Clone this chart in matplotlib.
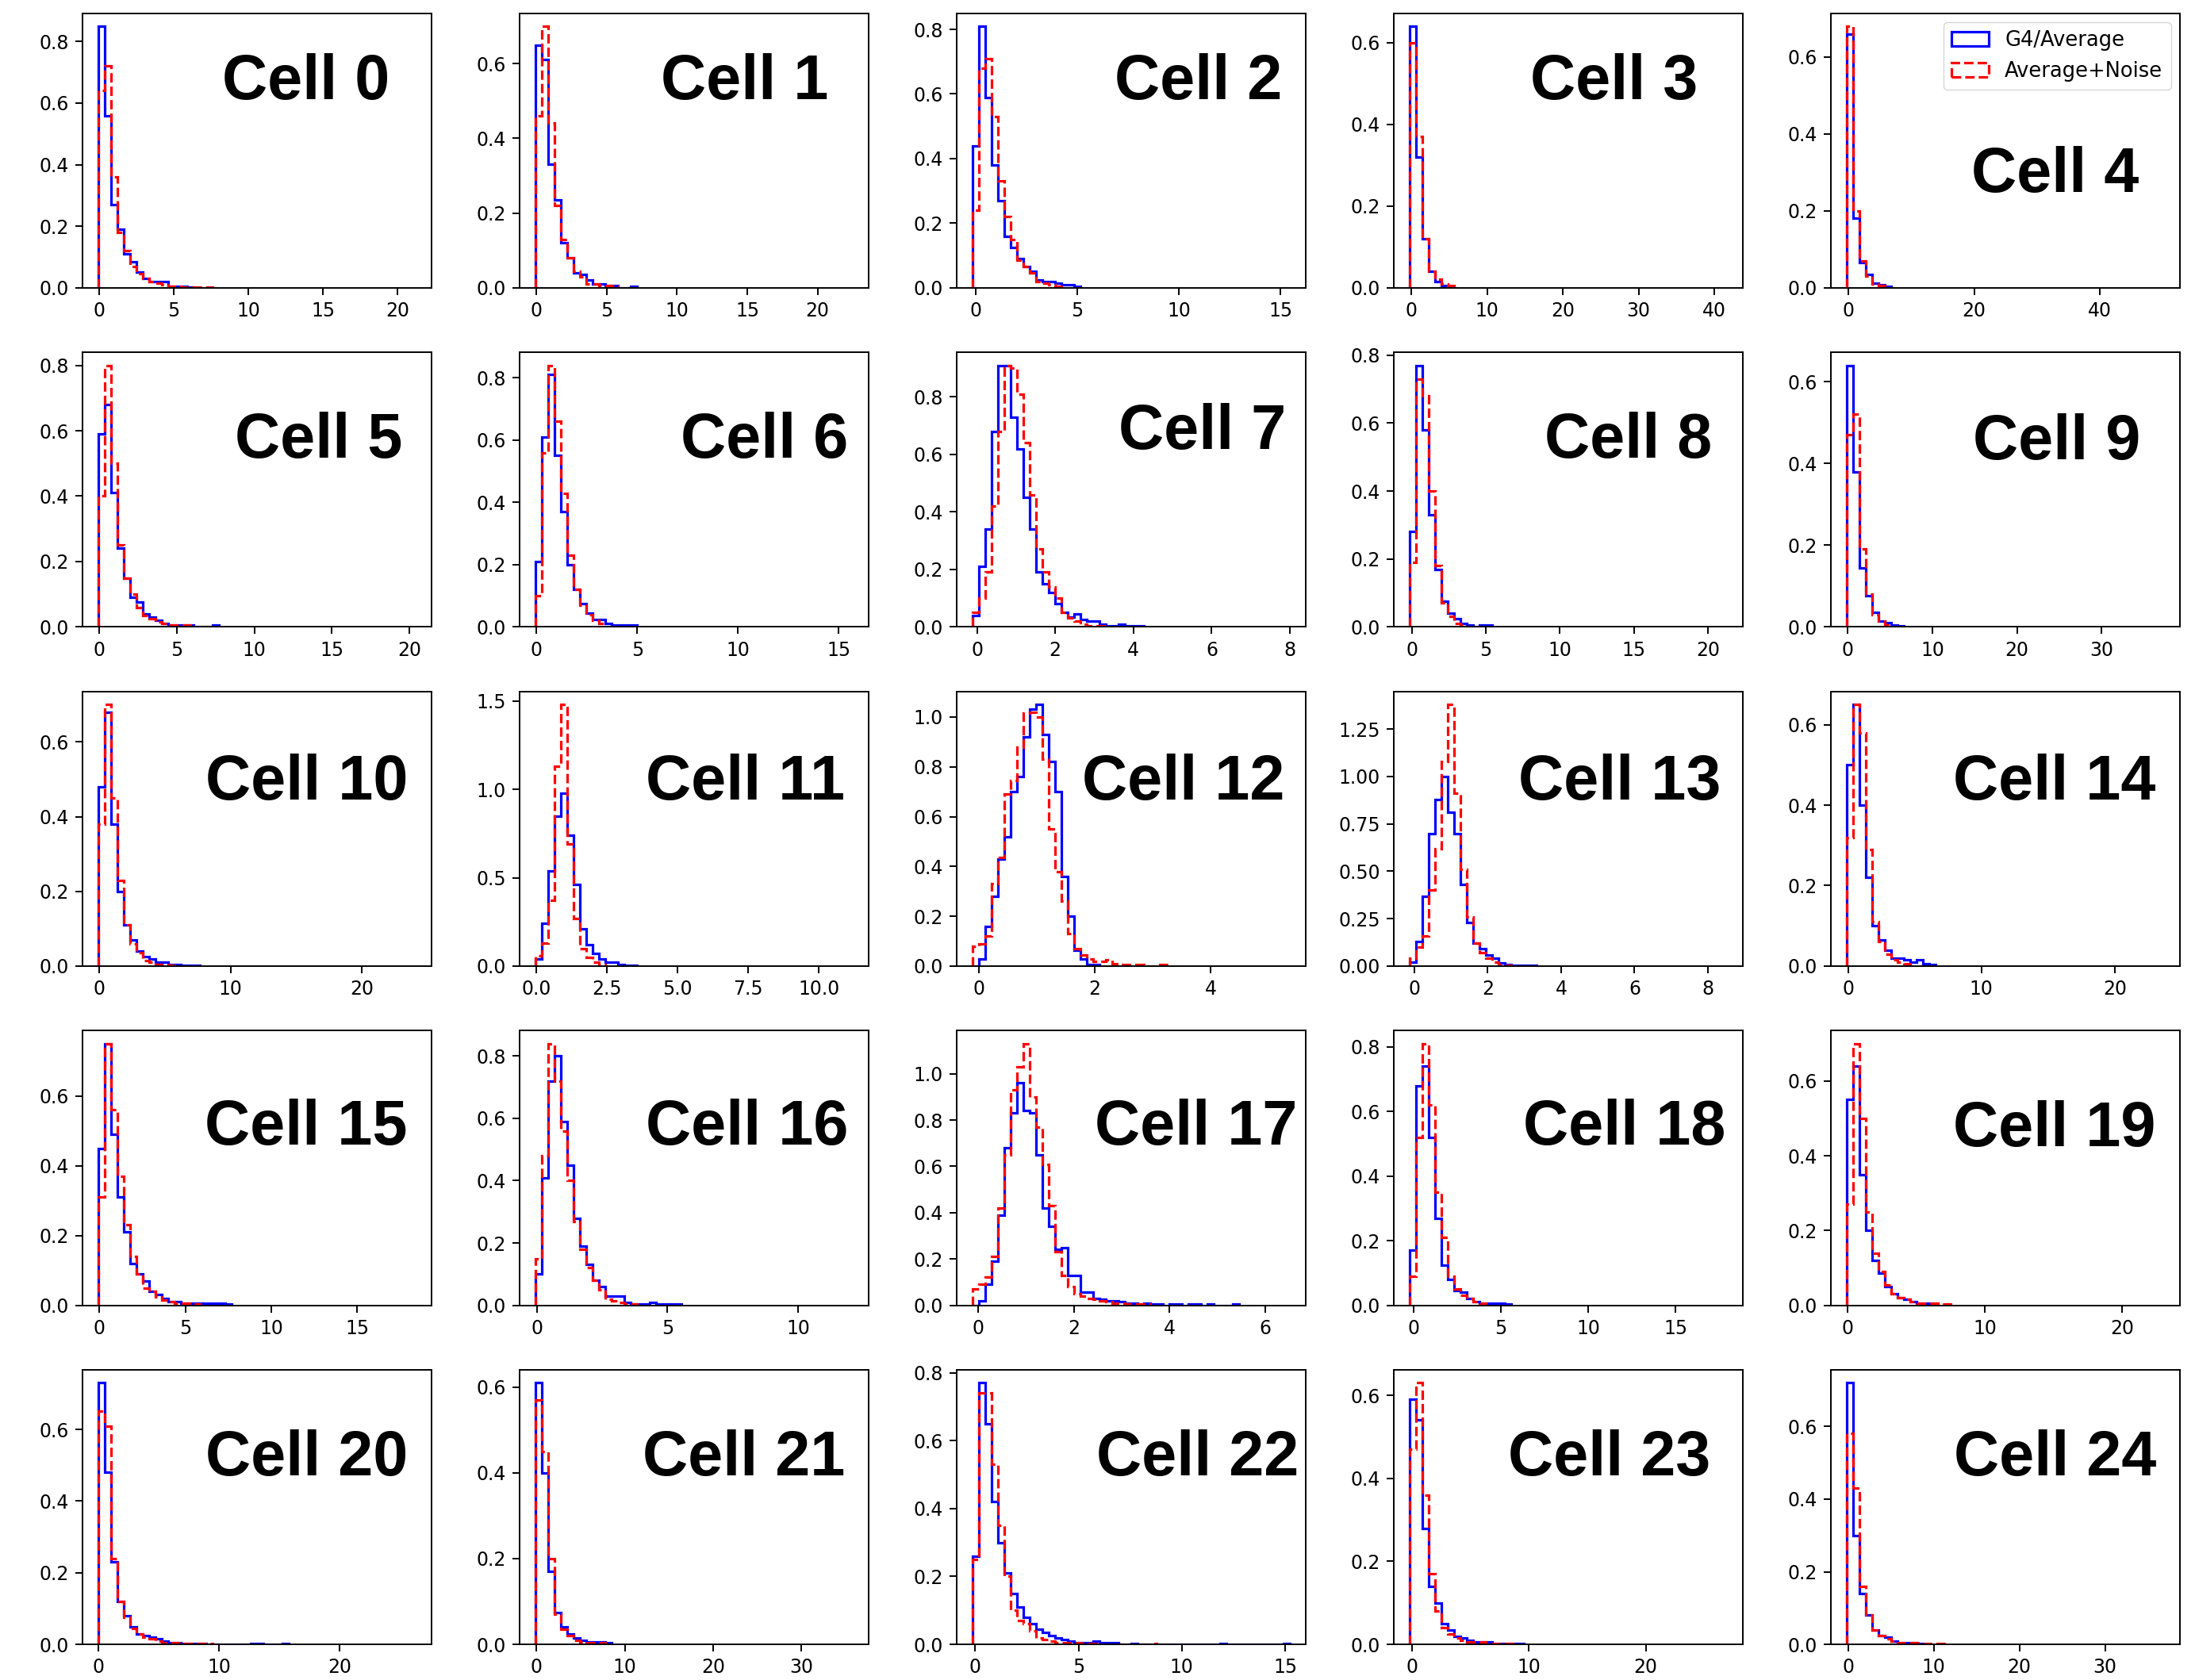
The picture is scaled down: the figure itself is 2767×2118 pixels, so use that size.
import numpy as np
import matplotlib
matplotlib.use("Agg")
import matplotlib.pyplot as plt
from matplotlib.ticker import MaxNLocator

# binning per cell: 50 equal bins from lo to hi, shared by both samples
cell_lo = [-0.03, -0.06, -0.13, -0.23, -0.18, -0.07, -0.05, -0.11, -0.12, -0.10,
           -0.07, -0.03, -0.10, -0.12, -0.07, -0.06, -0.06, -0.11, -0.20, -0.06,
           -0.03, -0.10, -0.12, -0.16, -0.11]
cell_hi = [21.2, 22.5, 15.46, 41.7, 50.2, 20.4, 15.7, 8.0, 21.3, 37.4,
           24.1, 11.2, 5.37, 8.52, 23.7, 18.4, 12.1, 6.51, 17.94, 23.05,
           26.3, 35.8, 15.23, 26.94, 36.9]

# normalised bin heights, G4/Average
g4_density = [
    [0.85, 0.56, 0.27, 0.19, 0.11, 0.085, 0.05, 0.03, 0.02, 0.02, 0.02, 0.005, 0.005, 0.005, 0.003],
    [0.65, 0.61, 0.33, 0.235, 0.12, 0.08, 0.04, 0.035, 0.02, 0.01, 0.01, 0.005, 0.005, 0, 0, 0.003],
    [0.44, 0.81, 0.59, 0.38, 0.27, 0.16, 0.125, 0.09, 0.065, 0.05, 0.025, 0.02, 0.02, 0.015, 0.01, 0.01, 0.005],
    [0.64, 0.32, 0.12, 0.04, 0.015, 0.005, 0.003],
    [0.66, 0.18, 0.065, 0.035, 0.012, 0.008, 0.003],
    [0.59, 0.68, 0.41, 0.24, 0.15, 0.09, 0.075, 0.04, 0.03, 0.02, 0.01, 0.005, 0.005, 0.005, 0.005, 0, 0, 0, 0.005],
    [0.21, 0.61, 0.81, 0.55, 0.37, 0.20, 0.12, 0.075, 0.045, 0.025, 0.025, 0.01, 0.005, 0.005, 0.005, 0.005],
    [0.04, 0.21, 0.34, 0.68, 0.91, 0.91, 0.73, 0.62, 0.45, 0.34, 0.19, 0.15, 0.12, 0.08, 0.05, 0.035,
     0.045, 0.025, 0.02, 0.02, 0.01, 0.005, 0.005, 0.01, 0.005, 0.005, 0.005],
    [0.28, 0.77, 0.58, 0.33, 0.17, 0.075, 0.04, 0.025, 0.01, 0.005, 0, 0.005, 0.005],
    [0.64, 0.38, 0.145, 0.077, 0.035, 0.015, 0.01, 0.005, 0.003],
    [0.48, 0.68, 0.38, 0.20, 0.11, 0.07, 0.04, 0.025, 0.02, 0.01, 0.01, 0.005, 0.005, 0.003, 0.003, 0.003],
    [0.04, 0.24, 0.54, 0.85, 0.98, 0.74, 0.46, 0.21, 0.12, 0.07, 0.04, 0.02, 0.02, 0.01, 0.005, 0.005],
    [0, 0.03, 0.16, 0.28, 0.43, 0.52, 0.70, 0.76, 0.92, 1.03, 1.05, 0.93, 0.82, 0.70, 0.36, 0.20,
     0.065, 0.03, 0.005, 0.005],
    [0.02, 0.13, 0.37, 0.70, 0.88, 1.00, 0.81, 0.70, 0.43, 0.23, 0.12, 0.09, 0.06, 0.04, 0.015, 0.01,
     0.005, 0.005, 0.005, 0.005],
    [0.50, 0.65, 0.40, 0.22, 0.10, 0.065, 0.04, 0.02, 0.02, 0.015, 0.01, 0.015, 0.005, 0.003],
    [0.45, 0.75, 0.49, 0.31, 0.21, 0.12, 0.09, 0.07, 0.04, 0.03, 0.02, 0.01, 0.01, 0.005, 0.005,
     0.005, 0.005, 0.005, 0.005, 0.005, 0.003],
    [0.10, 0.41, 0.72, 0.80, 0.59, 0.45, 0.28, 0.19, 0.13, 0.08, 0.06, 0.03, 0.03, 0.03, 0.01, 0.005,
     0.005, 0.005, 0.01, 0.005, 0.005, 0.005, 0.003],
    [0, 0.02, 0.09, 0.19, 0.39, 0.68, 0.83, 0.96, 0.84, 0.83, 0.65, 0.42, 0.34, 0.24, 0.25, 0.13, 0.13,
     0.055, 0.055, 0.03, 0.025, 0.02, 0.02, 0.015, 0.01, 0.01, 0.005, 0.01, 0.005, 0.005, 0, 0.005,
     0.005, 0, 0.005, 0.005, 0, 0.005, 0, 0, 0, 0.005],
    [0.17, 0.68, 0.74, 0.52, 0.27, 0.125, 0.08, 0.045, 0.04, 0.02, 0.01, 0.005, 0.005, 0.005, 0.005, 0.003],
    [0.55, 0.64, 0.35, 0.20, 0.12, 0.085, 0.05, 0.03, 0.02, 0.015, 0.01, 0.005, 0.005, 0.003],
    [0.73, 0.48, 0.23, 0.12, 0.08, 0.05, 0.03, 0.025, 0.02, 0.015, 0.01, 0.005, 0.005, 0.003, 0.003,
     0.003, 0.003] + [0] * 7 + [0.003, 0.003, 0, 0, 0, 0.003],
    [0.61, 0.40, 0.17, 0.075, 0.04, 0.025, 0.015, 0.01, 0.005, 0.005, 0.005, 0.003],
    [0.26, 0.77, 0.65, 0.42, 0.30, 0.21, 0.15, 0.11, 0.08, 0.06, 0.045, 0.035, 0.025, 0.02, 0.015,
     0.01, 0.005, 0.005, 0.005, 0.01, 0.005, 0.005, 0.005, 0, 0, 0.003] + [0] * 13 + [0.003] + [0] * 9 + [0.003],
    [0.59, 0.54, 0.28, 0.14, 0.10, 0.05, 0.035, 0.02, 0.015, 0.01, 0.005, 0.005, 0.005, 0.003, 0.003,
     0.003, 0.003, 0.003],
    [0.72, 0.30, 0.14, 0.08, 0.04, 0.025, 0.02, 0.01, 0.005, 0.005, 0.005, 0.003],
]

# normalised bin heights, Average+Noise
noise_density = [
    [0.64, 0.72, 0.36, 0.18, 0.12, 0.07, 0.045, 0.03, 0.02, 0.015, 0.01, 0.005, 0.005, 0.003, 0.003,
     0.003, 0.003, 0.003],
    [0.46, 0.70, 0.44, 0.22, 0.13, 0.08, 0.045, 0.03, 0.01, 0.01, 0.005, 0.005, 0.003],
    [0.24, 0.68, 0.71, 0.53, 0.33, 0.22, 0.15, 0.085, 0.065, 0.045, 0.02, 0.015, 0.01, 0.005],
    [0.60, 0.37, 0.12, 0.04, 0.02, 0.01, 0.005],
    [0.68, 0.20, 0.07, 0.03, 0.01, 0.005],
    [0.40, 0.80, 0.50, 0.25, 0.15, 0.10, 0.06, 0.035, 0.025, 0.015, 0.01, 0.005, 0.005, 0.005, 0.005],
    [0.10, 0.56, 0.84, 0.66, 0.43, 0.23, 0.12, 0.07, 0.04, 0.02, 0.01],
    [0.05, 0.10, 0.19, 0.42, 0.68, 0.91, 0.90, 0.81, 0.64, 0.46, 0.27, 0.19, 0.14, 0.10, 0.05, 0.03,
     0.02, 0.01, 0.005, 0.005, 0.003],
    [0.19, 0.73, 0.68, 0.40, 0.18, 0.07, 0.03, 0.01, 0.005],
    [0.47, 0.52, 0.19, 0.08, 0.03, 0.015, 0.005],
    [0.38, 0.70, 0.45, 0.23, 0.11, 0.06, 0.035, 0.015, 0.01, 0.005, 0.005, 0.003],
    [0.06, 0.13, 0.37, 1.13, 1.48, 0.69, 0.27, 0.10, 0.05, 0.02, 0.01],
    [0.08, 0.09, 0.12, 0.33, 0.435, 0.69, 0.745, 0.88, 1.015, 1.02, 1.0, 0.83, 0.55, 0.38, 0.26, 0.13,
     0.07, 0.045, 0.03, 0.02, 0.02, 0.025, 0.01, 0.005, 0.005, 0.005, 0.005, 0, 0, 0.005, 0.005],
    [0.04, 0.10, 0.16, 0.40, 0.62, 1.08, 1.38, 0.91, 0.51, 0.26, 0.12, 0.07, 0.04, 0.02, 0.01, 0.005],
    [0.32, 0.65, 0.58, 0.29, 0.11, 0.06, 0.03, 0.015, 0.01, 0.005],
    [0.31, 0.75, 0.56, 0.37, 0.23, 0.14, 0.09, 0.05, 0.04, 0.025, 0.015, 0.01, 0.005, 0.005, 0.005, 0.003],
    [0.15, 0.48, 0.84, 0.72, 0.56, 0.40, 0.27, 0.18, 0.12, 0.08, 0.05, 0.02, 0.015, 0.01, 0.005, 0.005],
    [0.07, 0.09, 0.12, 0.21, 0.42, 0.65, 0.93, 1.03, 1.13, 0.90, 0.77, 0.61, 0.43, 0.23, 0.13, 0.08,
     0.05, 0.04, 0.03, 0.025, 0.02, 0.015, 0.01, 0.01, 0.005, 0.005, 0.005, 0.005],
    [0.09, 0.52, 0.81, 0.62, 0.35, 0.21, 0.09, 0.05, 0.03, 0.02, 0.01, 0.005],
    [0.27, 0.70, 0.50, 0.25, 0.14, 0.09, 0.055, 0.03, 0.02, 0.015, 0.01, 0.005, 0.005, 0.005, 0.005,
     0.003, 0.003],
    [0.65, 0.61, 0.24, 0.12, 0.075, 0.045, 0.03, 0.02, 0.015, 0.01, 0.005, 0.005, 0.005, 0.003, 0.003,
     0.003, 0.003, 0.003],
    [0.57, 0.45, 0.20, 0.07, 0.035, 0.02, 0.01, 0.005, 0.003, 0.003, 0.003],
    [0.25, 0.74, 0.74, 0.53, 0.35, 0.20, 0.10, 0.07, 0.06, 0.04, 0.02, 0.015, 0.01, 0.005, 0.005, 0.005,
     0.005, 0.003, 0.003, 0.003] + [0] * 8 + [0.003],
    [0.47, 0.63, 0.36, 0.17, 0.08, 0.04, 0.025, 0.015, 0.01, 0.005, 0.005, 0.005, 0.003, 0.003, 0.003,
     0.003, 0.003],
    [0.58, 0.43, 0.16, 0.08, 0.04, 0.025, 0.015, 0.01, 0.005, 0.005, 0.005, 0.005, 0.003, 0.003, 0.003, 0.003],
]

# where the "Cell N" tag sits inside each panel (axes fraction, right/baseline)
tag_x = [0.88, 0.884, 0.932, 0.870, 0.882, 0.916, 0.941, 0.943, 0.911, 0.886,
         0.932, 0.933, 0.939, 0.938, 0.931, 0.932, 0.941, 0.975, 0.95, 0.931,
         0.932, 0.933, 0.98, 0.906, 0.931]
tag_y = [0.688, 0.688, 0.688, 0.688, 0.35, 0.616, 0.616, 0.648, 0.616, 0.609,
         0.606, 0.606, 0.605, 0.606, 0.606, 0.585, 0.585, 0.585, 0.585, 0.578,
         0.616, 0.616, 0.616, 0.616, 0.616]

plt.rcParams.update({
    "font.family": "DejaVu Sans",
    "font.size": 17,
    "axes.linewidth": 1.4,
    "xtick.major.size": 6.5,
    "ytick.major.size": 6.5,
    "xtick.major.width": 1.4,
    "ytick.major.width": 1.4,
    "xtick.major.pad": 6,
    "ytick.major.pad": 6,
    "legend.fontsize": 18.5,
})

fig, axes = plt.subplots(5, 5, figsize=(27.67, 21.18), dpi=100)
fig.subplots_adjust(left=0.0376, right=0.9932, bottom=0.0212, top=0.9922,
                    wspace=0.253, hspace=0.235)

for i, ax in enumerate(axes.flat):
    lo, hi = cell_lo[i], cell_hi[i]
    width = (hi - lo) / 50
    for vals, color, ls, label in ((g4_density[i], "b", "-", "G4/Average"),
                                   (noise_density[i], "r", "--", "Average+Noise")):
        edges = lo + width * np.arange(len(vals) + 1)
        ax.hist(edges[:-1] + width / 2, bins=edges, weights=vals, histtype="step",
                color=color, linestyle=ls, linewidth=2.3, label=label)
    span = hi - lo
    ax.set_xlim(lo - 0.05 * span, hi + 0.05 * span)
    ax.xaxis.set_major_locator(MaxNLocator(nbins=5, steps=[1, 2, 2.5, 5, 10]))
    ax.yaxis.set_major_locator(MaxNLocator(nbins=6, steps=[1, 2, 2.5, 5, 10]))
    ax.text(tag_x[i], tag_y[i], f"Cell {i}", transform=ax.transAxes,
            ha="right", va="baseline", fontsize=57, fontweight="bold",
            family="Liberation Sans")

axes[0, 4].legend(loc="upper right", handlelength=1.8, borderaxespad=0.45)

fig.savefig("out.png")
